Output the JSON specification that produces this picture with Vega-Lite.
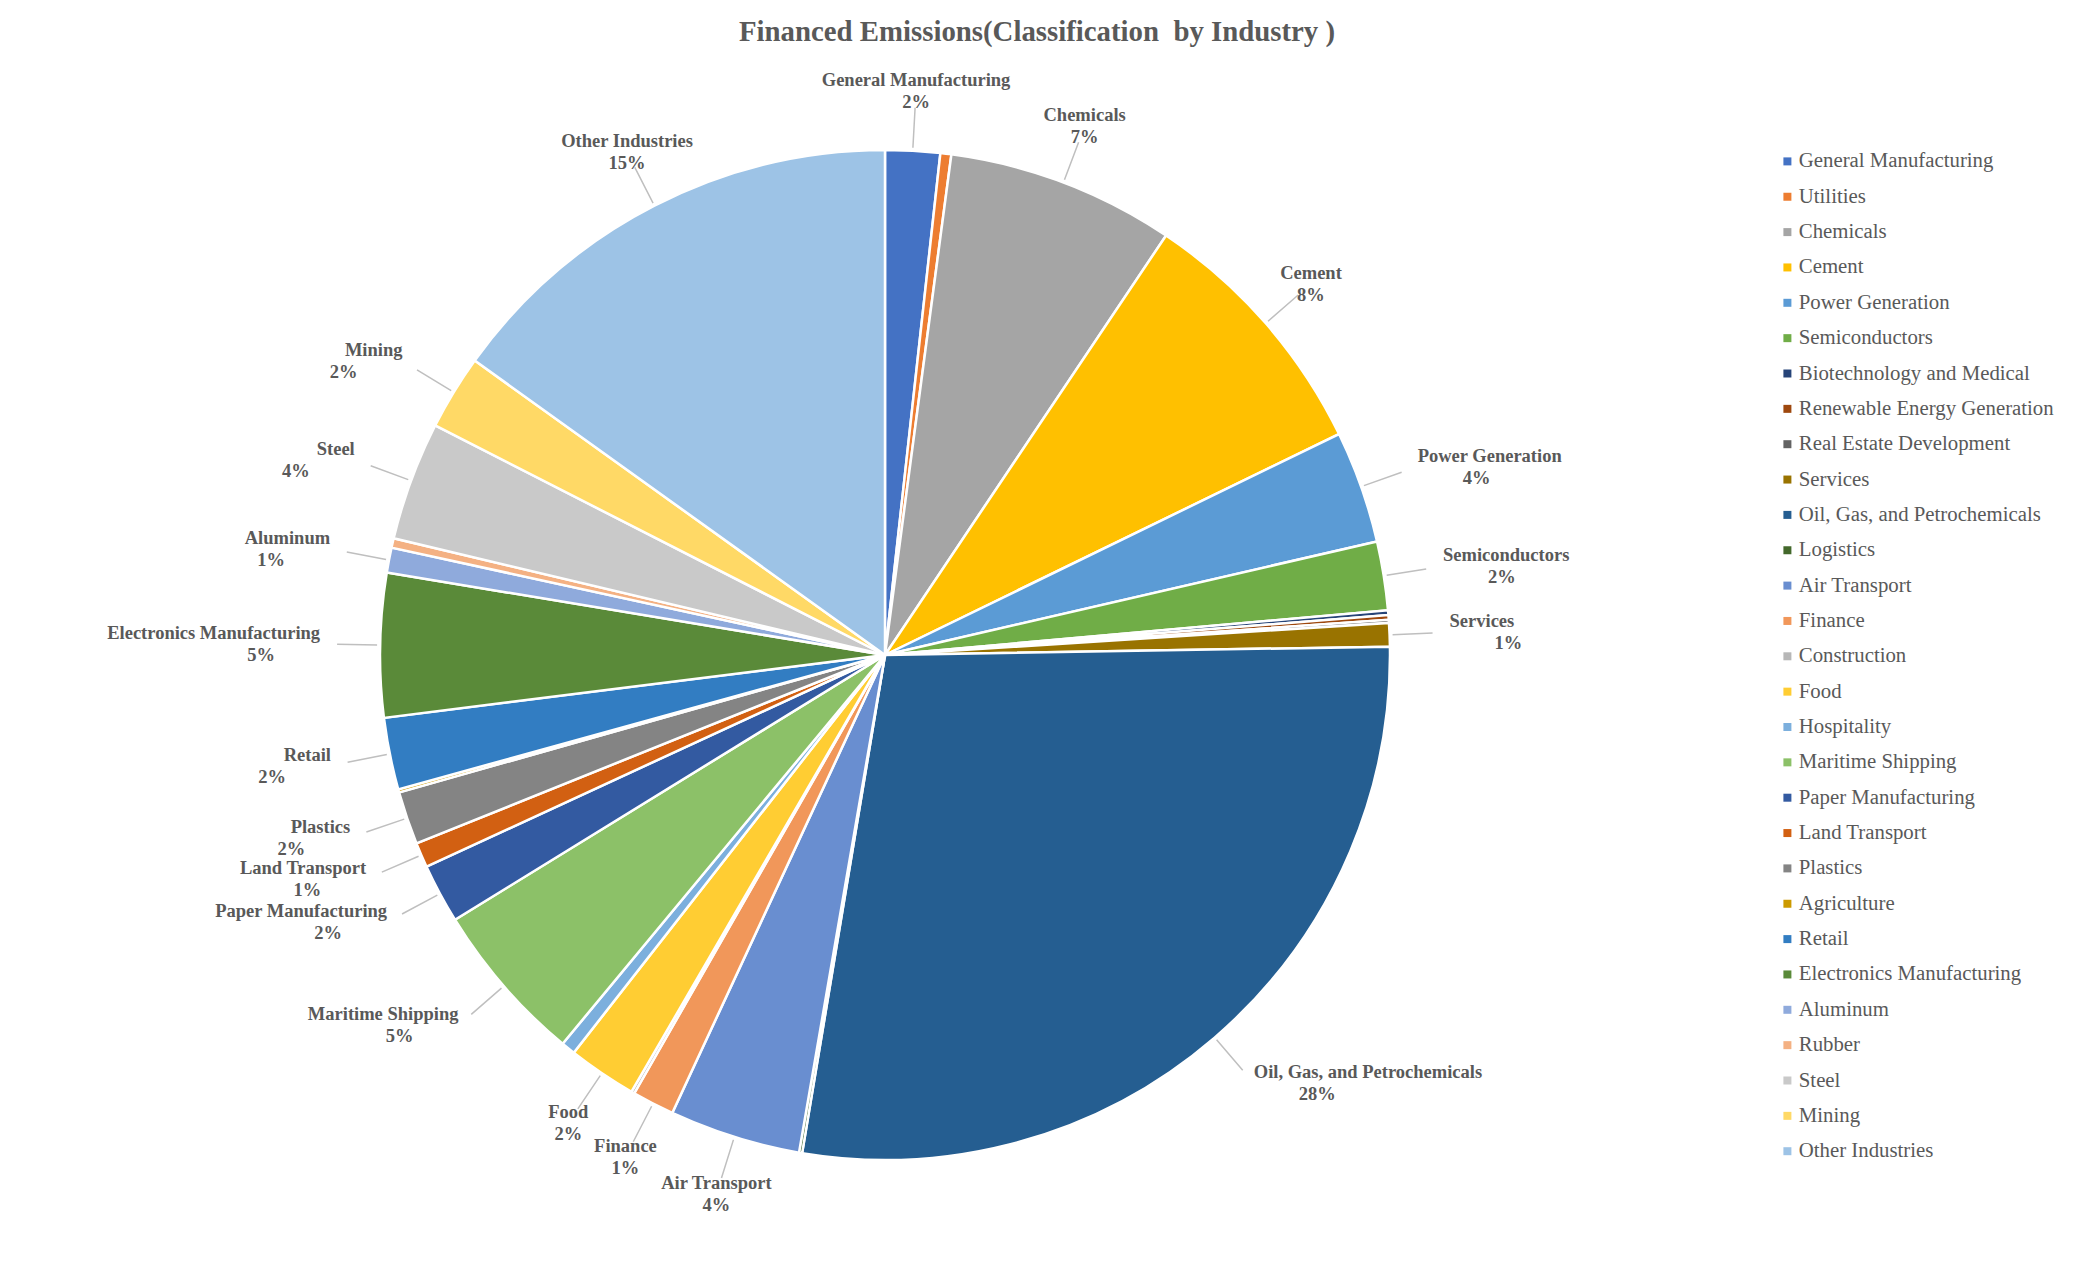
{
  "$schema": "https://vega.github.io/schema/vega-lite/v6.json",
  "width": 1770,
  "height": 1212,
  "autosize": {"type": "none"},
  "padding": {"left": 0, "top": 49, "right": 305, "bottom": 0},
  "background": "white",
  "title": {
    "text": "Financed Emissions(Classification\u00a0 by Industry\u00a0)",
    "font": "Liberation Serif",
    "fontSize": 28.8,
    "fontWeight": "bold",
    "color": "#595959",
    "anchor": "middle",
    "dx": 152,
    "offset": 2
  },
  "data": {
    "values": [
      {"idx": 1, "category": "General Manufacturing", "value": 0.0175},
      {"idx": 2, "category": "Utilities", "value": 0.0035},
      {"idx": 3, "category": "Chemicals", "value": 0.073},
      {"idx": 4, "category": "Cement", "value": 0.084},
      {"idx": 5, "category": "\u00a0Power Generation", "value": 0.036},
      {"idx": 6, "category": "Semiconductors", "value": 0.022},
      {"idx": 7, "category": "Biotechnology and Medical", "value": 0.0015},
      {"idx": 8, "category": "Renewable Energy Generation", "value": 0.0015},
      {"idx": 9, "category": "Real Estate Development", "value": 0.001},
      {"idx": 10, "category": "Services", "value": 0.0075},
      {"idx": 11, "category": "Oil, Gas, and Petrochemicals", "value": 0.279},
      {"idx": 12, "category": "Logistics", "value": 0.001},
      {"idx": 13, "category": "Air Transport", "value": 0.042},
      {"idx": 14, "category": "Finance", "value": 0.0135},
      {"idx": 15, "category": "Construction", "value": 0.001},
      {"idx": 16, "category": "Food", "value": 0.022},
      {"idx": 17, "category": "Hospitality", "value": 0.0045},
      {"idx": 18, "category": "Maritime Shipping", "value": 0.052},
      {"idx": 19, "category": "Paper Manufacturing", "value": 0.019},
      {"idx": 20, "category": "Land Transport", "value": 0.008},
      {"idx": 21, "category": "Plastics", "value": 0.017},
      {"idx": 22, "category": "Agriculture", "value": 0.001},
      {"idx": 23, "category": "Retail", "value": 0.023},
      {"idx": 24, "category": "Electronics Manufacturing", "value": 0.046},
      {"idx": 25, "category": "Aluminum", "value": 0.008},
      {"idx": 26, "category": "Rubber", "value": 0.003},
      {"idx": 27, "category": "Steel", "value": 0.038},
      {"idx": 28, "category": "Mining", "value": 0.024},
      {"idx": 29, "category": "Other Industries", "value": 0.151}
    ]
  },
  "encoding": {
    "theta": {"field": "value", "type": "quantitative", "stack": true},
    "order": {"field": "idx", "type": "quantitative"}
  },
  "layer": [
    {
      "mark": {"type": "arc", "outerRadius": 505, "stroke": "white", "strokeWidth": 2.5},
      "encoding": {
        "color": {
          "field": "category",
          "type": "nominal",
          "scale": {
            "domain": ["General Manufacturing", "Utilities", "Chemicals", "Cement", "\u00a0Power Generation", "Semiconductors", "Biotechnology and Medical", "Renewable Energy Generation", "Real Estate Development", "Services", "Oil, Gas, and Petrochemicals", "Logistics", "Air Transport", "Finance", "Construction", "Food", "Hospitality", "Maritime Shipping", "Paper Manufacturing", "Land Transport", "Plastics", "Agriculture", "Retail", "Electronics Manufacturing", "Aluminum", "Rubber", "Steel", "Mining", "Other Industries"],
            "range": ["#4472C4", "#ED7D31", "#A5A5A5", "#FFC000", "#5B9BD5", "#70AD47", "#264478", "#9E480E", "#636363", "#997300", "#255E91", "#43682B", "#698ED0", "#F1975A", "#B7B7B7", "#FFCD33", "#7CAFDD", "#8CC168", "#335AA1", "#D26012", "#848484", "#CC9A00", "#327DC2", "#5A8A39", "#8FAADC", "#F4B183", "#C9C9C9", "#FFD966", "#9DC3E6"]
          },
          "legend": {
            "title": null,
            "orient": "none",
            "legendX": 1777,
            "legendY": 102,
            "symbolType": "square",
            "symbolSize": 64,
            "symbolStrokeWidth": 0,
            "labelFont": "Liberation Serif",
            "labelFontSize": 20.8,
            "labelColor": "#595959",
            "labelOffset": 1,
            "labelLimit": 400,
            "rowPadding": 13.35,
            "padding": 0
          }
        }
      }
    },
    {
      "mark": {"type": "arc", "radius": 548, "radius2": 508, "padAngle": 1.5, "filled": false, "stroke": "#BFBFBF", "strokeWidth": 1.5},
      "encoding": {
        "strokeOpacity": {
          "condition": {"test": "indexof(['Utilities','Biotechnology and Medical','Renewable Energy Generation','Real Estate Development','Logistics','Construction','Hospitality','Agriculture','Rubber'], datum.category) >= 0", "value": 0},
          "value": 1
        }
      }
    },
    {
      "mark": {"type": "text", "radius": 565, "align": "center", "baseline": "middle", "dy": -11, "font": "Liberation Serif", "fontSize": 18.5, "fontWeight": "bold", "fill": "#595959"},
      "encoding": {
        "text": {"condition": {"test": "indexof(['General Manufacturing','Chemicals','Cement','Air Transport','Finance','Food','Other Industries'], datum.category) >= 0", "field": "category", "type": "nominal"}, "value": ""}
      }
    },
    {
      "mark": {"type": "text", "radius": 565, "align": "center", "baseline": "middle", "dy": 11, "font": "Liberation Serif", "fontSize": 18.5, "fontWeight": "bold", "fill": "#595959"},
      "encoding": {
        "text": {"condition": {"test": "indexof(['General Manufacturing','Chemicals','Cement','Air Transport','Finance','Food','Other Industries'], datum.category) >= 0", "field": "value", "type": "quantitative", "format": ".0%"}, "value": ""}
      }
    },
    {
      "mark": {"type": "text", "radius": 565, "align": "left", "baseline": "middle", "dy": -11, "font": "Liberation Serif", "fontSize": 18.5, "fontWeight": "bold", "fill": "#595959"},
      "encoding": {
        "text": {"condition": {"test": "indexof(['\u00a0Power Generation','Semiconductors','Services','Oil, Gas, and Petrochemicals'], datum.category) >= 0", "field": "category", "type": "nominal"}, "value": ""}
      }
    },
    {
      "mark": {"type": "text", "radius": 565, "align": "left", "baseline": "middle", "dy": 11, "dx": 45, "font": "Liberation Serif", "fontSize": 18.5, "fontWeight": "bold", "fill": "#595959"},
      "encoding": {
        "text": {"condition": {"test": "indexof(['\u00a0Power Generation','Semiconductors','Services','Oil, Gas, and Petrochemicals'], datum.category) >= 0", "field": "value", "type": "quantitative", "format": ".0%"}, "value": ""}
      }
    },
    {
      "mark": {"type": "text", "radius": 565, "align": "right", "baseline": "middle", "dy": -11, "font": "Liberation Serif", "fontSize": 18.5, "fontWeight": "bold", "fill": "#595959"},
      "encoding": {
        "text": {"condition": {"test": "indexof(['Maritime Shipping','Paper Manufacturing','Land Transport','Plastics','Retail','Electronics Manufacturing','Aluminum','Steel','Mining'], datum.category) >= 0", "field": "category", "type": "nominal"}, "value": ""}
      }
    },
    {
      "mark": {"type": "text", "radius": 565, "align": "right", "baseline": "middle", "dy": 11, "dx": -45, "font": "Liberation Serif", "fontSize": 18.5, "fontWeight": "bold", "fill": "#595959"},
      "encoding": {
        "text": {"condition": {"test": "indexof(['Maritime Shipping','Paper Manufacturing','Land Transport','Plastics','Retail','Electronics Manufacturing','Aluminum','Steel','Mining'], datum.category) >= 0", "field": "value", "type": "quantitative", "format": ".0%"}, "value": ""}
      }
    }
  ],
  "config": {"view": {"stroke": null}}
}
